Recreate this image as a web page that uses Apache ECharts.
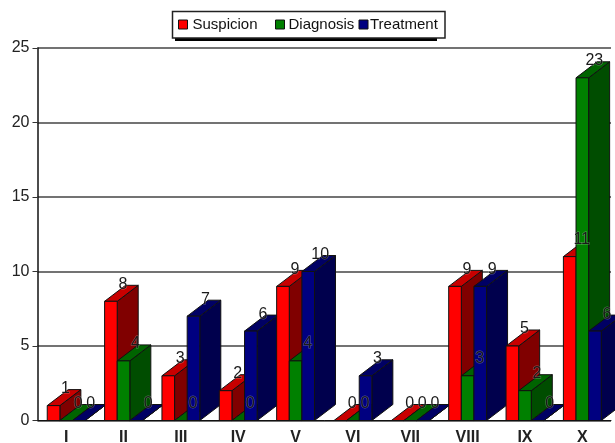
<!DOCTYPE html>
<html>
<head>
<meta charset="utf-8">
<style>
  html, body { margin: 0; padding: 0; background: #fff; overflow: hidden; }
  #chart { width: 615px; height: 443px; }
</style>
<script src="https://cdn.jsdelivr.net/npm/echarts@6/dist/echarts.min.js"></script>
</head>
<body>
<div id="chart"></div>
<script>
const categories = ['I', 'II', 'III', 'IV', 'V', 'VI', 'VII', 'VIII', 'IX', 'X'];
const suspicion = [1, 8, 3, 2, 9, 0, 0, 9, 5, 11];
const diagnosis = [0, 4, 0, 0, 4, 0, 0, 3, 2, 23];
const treatment = [0, 0, 7, 6, 10, 3, 0, 9, 0, 6];

// front, side, top
const redFaces = ['#ff0000', '#800000', '#c80000'];
const greenFaces = ['#008000', '#004d00', '#006400'];
const blueFaces = ['#000080', '#00004d', '#000064'];

const depthX = 21;
const depthY = 16;
const barShare = 0.22;
const fontName = '"Liberation Sans", Arial, sans-serif';

const chart = echarts.init(document.getElementById('chart'), null, { renderer: 'canvas' });

// 3D look: every bar is three polygons, stacked by z2 so later categories cover earlier ones
function bar3d(seriesIndex, faces) {
  return function (params, api) {
    const cat = api.value(0);
    const val = api.value(1);
    const center = api.coord([cat, val]);
    const base = api.coord([cat, 0]);
    const w = api.size([1, 0])[0] * barShare;
    const x0 = center[0] + (seriesIndex - 1.5) * w;
    const x1 = x0 + w;
    const top = center[1];
    const bottom = base[1];
    const z = cat * 3 + seriesIndex + 1;
    const edge = { stroke: '#111', lineWidth: 1 };
    const poly = (points, fill) => ({
      type: 'polygon',
      z2: z,
      shape: { points: points },
      style: Object.assign({ fill: fill }, edge)
    });
    return {
      type: 'group',
      children: [
        poly([[x1, top], [x1 + depthX, top - depthY], [x1 + depthX, bottom - depthY], [x1, bottom]], faces[1]),
        poly([[x0, top], [x0 + depthX, top - depthY], [x1 + depthX, top - depthY], [x1, top]], faces[2]),
        poly([[x0, top], [x1, top], [x1, bottom], [x0, bottom]], faces[0]),
        {
          type: 'text',
          z2: 1000,
          style: {
            text: String(val),
            x: (x0 + x1) / 2 + 12,
            y: top - depthY - 1,
            align: 'center',
            verticalAlign: 'middle',
            fill: '#1a1a1a',
            stroke: 'rgba(255,255,255,0.3)',
            lineWidth: 1,
            font: '16px ' + fontName
          }
        }
      ]
    };
  };
}

function makeSeries(name, values, index, faces) {
  return {
    name: name,
    type: 'custom',
    renderItem: bar3d(index, faces),
    encode: { x: 0, y: 1 },
    itemStyle: { color: faces[0] },
    data: values.map((v, i) => [i, v]),
    clip: false,
    silent: true
  };
}

function legendItem(name, left, textShift) {
  return {
    data: [name],
    left: left,
    top: 17,
    icon: 'rect',
    itemWidth: 9,
    itemHeight: 9,
    itemGap: 0,
    padding: 0,
    selectedMode: false,
    textStyle: { color: '#111', fontSize: 15, fontFamily: fontName, padding: [0, 0, 0, textShift] },
    itemStyle: { borderColor: '#111', borderWidth: 1 }
  };
}

chart.setOption({
  animation: false,
  backgroundColor: '#fff',
  grid: { left: 37.5, right: 4, top: 48, bottom: 22.5, containLabel: false, outerBoundsMode: 'none' },
  legend: [legendItem('Suspicion', 178, 0), legendItem('Diagnosis', 275, -1), legendItem('Treatment', 358.5, -3)],
  graphic: [{
    type: 'rect',
    z: 1,
    silent: true,
    shape: { x: 175, y: 38, width: 262, height: 3 },
    style: { fill: '#000' }
  }, {
    type: 'rect',
    z: 1,
    silent: true,
    shape: { x: 172.5, y: 11.5, width: 272.5, height: 26.5 },
    style: { fill: '#fff', stroke: '#222', lineWidth: 1.5 }
  }],
  xAxis: {
    type: 'category',
    data: categories,
    axisTick: { show: false },
    axisLine: { lineStyle: { color: '#111', width: 1 } },
    axisLabel: { color: '#222', fontSize: 16, fontWeight: 'bold', fontFamily: fontName, margin: 9, interval: 0 }
  },
  yAxis: {
    type: 'value',
    min: 0,
    max: 25,
    interval: 5,
    axisLine: { show: true, lineStyle: { color: '#111', width: 1.5 } },
    axisTick: { show: true, length: 5, lineStyle: { color: '#333' } },
    axisLabel: { color: '#222', fontSize: 16, fontFamily: fontName, margin: 8 },
    splitLine: { show: true, lineStyle: { color: '#444', width: 1.5 } }
  },
  series: [
    makeSeries('Suspicion', suspicion, 0, redFaces),
    makeSeries('Diagnosis', diagnosis, 1, greenFaces),
    makeSeries('Treatment', treatment, 2, blueFaces)
  ]
});
</script>
</body>
</html>
